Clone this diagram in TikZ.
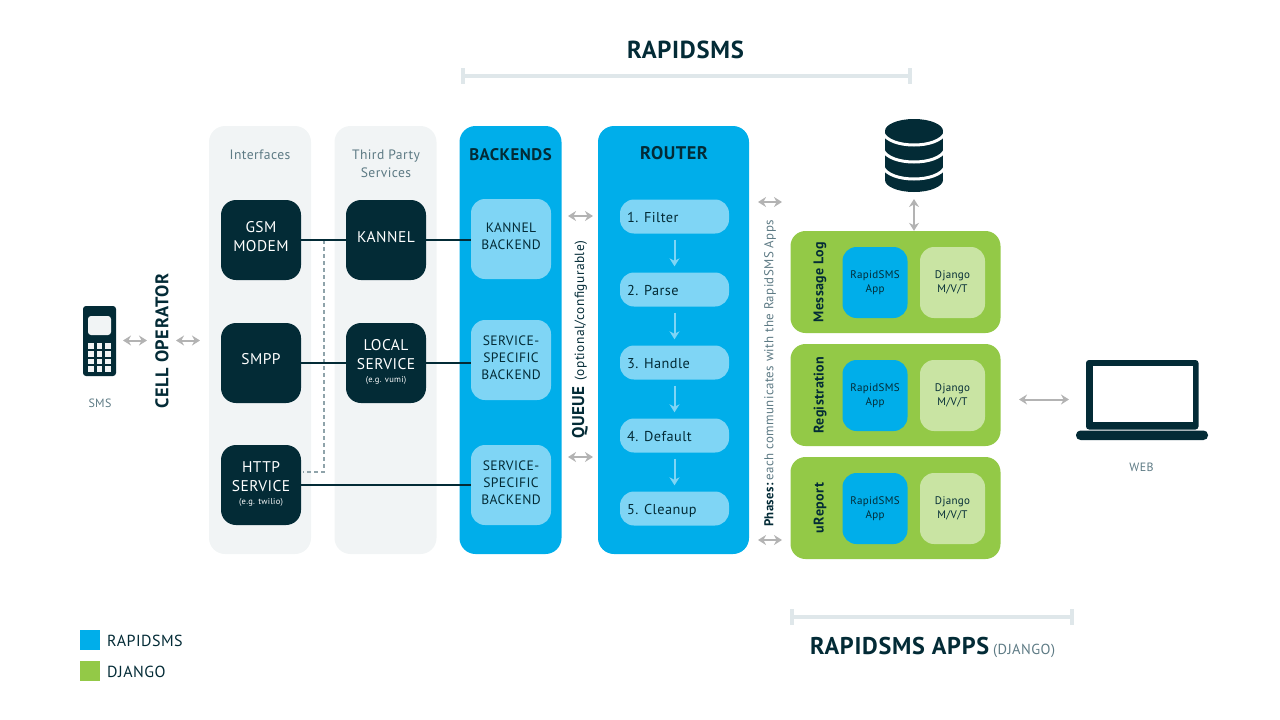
\documentclass[tikz,border=0pt]{standalone}
\usepackage{fontspec}
\setmainfont{PT Sans}[LetterSpace=3]
\usetikzlibrary{arrows.meta,calc}
\definecolor{ink}{HTML}{032B36}
\definecolor{sky}{HTML}{00AEEA}
\definecolor{paleblue}{HTML}{7FD5F5}
\definecolor{leaf}{HTML}{93C947}
\definecolor{paleleaf}{HTML}{C9E4A3}
\definecolor{panelgrey}{HTML}{F1F4F5}
\definecolor{softtext}{HTML}{5D7A84}
\definecolor{rulegrey}{HTML}{DFE7EA}
\definecolor{arrowgrey}{HTML}{B3B3B3}
\definecolor{dashgrey}{HTML}{8FA3AA}
\newcommand{\fs}[2]{\fontsize{#1}{#2}\selectfont}
\tikzset{
  x=1pt,y=-1pt,
  areabox/.style={minimum width=#1,inner sep=0pt,rounded corners=16pt},
  panel/.style={areabox=102pt,fill=panelgrey,minimum height=428pt},
  bluearea/.style={fill=sky,inner sep=0pt,rounded corners=16pt,minimum height=428pt},
  darkbox/.style={fill=ink,minimum width=80pt,minimum height=80pt,inner sep=0pt,rounded corners=15pt},
  palebox/.style={fill=paleblue,minimum width=80pt,minimum height=80pt,inner sep=0pt,rounded corners=14pt},
  pill/.style={fill=paleblue,minimum width=109pt,minimum height=34pt,inner sep=0pt,rounded corners=14pt},
  pilltext/.style={text=ink,anchor=west,font=\fs{14.3}{16},inner sep=0pt,text height=11pt,text depth=3pt},
  appbox/.style={fill=leaf,minimum width=210pt,minimum height=102pt,inner sep=0pt,rounded corners=15pt},
  smallblue/.style={fill=sky,minimum width=65pt,minimum height=71pt,inner sep=0pt,rounded corners=14pt,text=ink,align=center,font=\fs{11}{14.5}},
  smallleaf/.style={fill=paleleaf,minimum width=65pt,minimum height=71pt,inner sep=0pt,rounded corners=14pt,text=ink,align=center,font=\fs{11}{14.5}},
  whitetext/.style={text=white,align=center,font=\fs{15.5}{19}},
  tinytext/.style={text=white,align=center,font=\fs{8.5}{10}},
  backendtext/.style={text=ink,align=center,font=\fs{13.6}{17}},
  softlabel/.style={text=softtext,align=center,font=\fs{13.6}{18}},
  heading/.style={text=ink,align=center,font=\bfseries\fs{18.3}{20}},
  apptitle/.style={text=ink,rotate=90,font=\bfseries\fs{14}{16}},
  wire/.style={draw=ink,line width=2pt},
  dashwire/.style={draw=dashgrey,line width=2pt,dash pattern=on 4pt off 3pt},
  twoway/.style={draw=arrowgrey,line width=2pt,{Stealth[length=8pt,width=10pt]}-{Stealth[length=8pt,width=10pt]}},
  phasearrow/.style={draw=paleblue,line width=2pt,-{Stealth[length=8pt,width=10pt]}},
  bracketrule/.style={draw=rulegrey,line width=4pt},
  swatch/.style={minimum width=20pt,minimum height=20pt,inner sep=0pt},
  legendtext/.style={text=ink,anchor=west,font=\fs{16}{18},inner sep=0pt}
}
\begin{document}
\begin{tikzpicture}
\useasboundingbox (0,0) rectangle (1280,720);

% Title and top bracket
\node[text=ink,font=\bfseries\fs{24.6}{26}] (title) at (685.5,50) {RAPIDSMS};
\coordinate (tl) at (463,76); \coordinate (tr) at (910,76);
\draw[bracketrule] (tl) -- (tr);
\draw[bracketrule] ([yshift=8pt]tl) -- ([yshift=-8pt]tl);
\draw[bracketrule] ([yshift=8pt]tr) -- ([yshift=-8pt]tr);

% Areas
\node[panel] (ifaces) at (260,340) {};
\node[panel] (third) at (385.5,340) {};
\node[bluearea,minimum width=102pt] (backends) at (510.5,340) {};
\node[bluearea,minimum width=151pt] (router) at (673.5,340) {};
\node[softlabel] (ifacet) at (260,154.5) {Interfaces};
\node[softlabel] (thirdt) at (386,163.5) {Third Party\\Services};
\node[heading,font=\bfseries\fs{16.8}{20}] (backt) at (510.5,155) {BACKENDS};
\node[heading] (routert) at (674,153) {ROUTER};

% Inner boxes
\node[darkbox] (gsm) at (261,240) {};
\node[darkbox] (smpp) at (261,363) {};
\node[darkbox] (http) at (261,485) {};
\node[darkbox] (kannel) at (386,240) {};
\node[darkbox] (local) at (386,363) {};
\node[palebox] (kb) at (511,239) {};
\node[palebox] (sb1) at (511,360) {};
\node[palebox] (sb2) at (511,485) {};

% Connectors
\coordinate (dashtop) at ($(gsm.east)!0.5!(kannel.west)$);
\coordinate (dashend) at ([yshift=13pt]http.east);
\draw[dashwire] (dashtop) -- (dashtop |- dashend) -- ([xshift=2pt]dashend);
\draw[wire] (gsm.east) -- (kannel.west);
\draw[wire] (kannel.east) -- (kannel.east -| kb.west);
\draw[wire] (smpp.east) -- (local.west);
\draw[wire] (local.east) -- (local.east -| sb1.west);
\draw[wire] (http.east) -- (http.east -| sb2.west);

% Box labels
\node[whitetext] (gsmt) at (261,236.5) {GSM\\MODEM};
\node[whitetext] (smppt) at (261,359.5) {SMPP};
\node[whitetext] (httpt) at (261,476.5) {HTTP\\SERVICE};
\node[tinytext] (https) at (261,502) {(e.g. twilio)};
\node[whitetext] (kannelt) at (386,237) {KANNEL};
\node[whitetext] (localt) at (386,354.5) {LOCAL\\SERVICE};
\node[tinytext] (locals) at (386,380.5) {(e.g. vumi)};
\node[backendtext] at (511,236) {KANNEL\\BACKEND};
\node[backendtext] at (511,358) {SERVICE-\\SPECIFIC\\BACKEND};
\node[backendtext] at (511,483) {SERVICE-\\SPECIFIC\\BACKEND};

% Router phases
\node[pill] (p1) at (674.5,216.5) {};
\node[pill] (p2) at (674.5,289.5) {};
\node[pill] (p3) at (674.5,362.5) {};
\node[pill] (p4) at (674.5,435.5) {};
\node[pill] (p5) at (674.5,508.5) {};
\node[pilltext] at (627,218) {1. Filter};
\node[pilltext] at (627,291) {2. Parse};
\node[pilltext] at (627,364) {3. Handle};
\node[pilltext] at (627,437) {4. Default};
\node[pilltext] at (627,510) {5. Cleanup};
\draw[phasearrow] ([yshift=-6pt]p1.south) -- ([yshift=6pt]p2.north);
\draw[phasearrow] ([yshift=-6pt]p2.south) -- ([yshift=6pt]p3.north);
\draw[phasearrow] ([yshift=-6pt]p3.south) -- ([yshift=6pt]p4.north);
\draw[phasearrow] ([yshift=-6pt]p4.south) -- ([yshift=6pt]p5.north);

% Rotated labels
\node[rotate=90,text=ink,font=\bfseries\fs{18.3}{20}] (cell) at (162,341) {CELL OPERATOR};
\node[rotate=90,text=ink,anchor=west,inner sep=0pt] (queue) at (580,439) {{\bfseries\fs{17}{18}QUEUE}\hspace{6pt}{\color{ink}\fs{13.4}{14}(optional/configurable)}};
\node[rotate=90,text=softtext,anchor=west,inner sep=0pt] (phases) at (770,527) {{\bfseries\color{ink}\fs{12.8}{14}Phases:}\hspace{3pt}\fs{12.9}{14}each communicates with the RapidSMS Apps};

% Two-way arrows
\coordinate (a1l) at (123,340.5); \coordinate (a1r) at (147,340.5);
\coordinate (a2l) at (176,340.5); \coordinate (a2r) at (200,340.5);
\coordinate (q1l) at (568,216); \coordinate (q1r) at (593,216);
\coordinate (q2l) at (568,457); \coordinate (q2r) at (593,457);
\coordinate (r1l) at (758,202); \coordinate (r1r) at (782,202);
\coordinate (r2l) at (758,540); \coordinate (r2r) at (782,540);
\draw[twoway] (a1l) -- (a1r);
\draw[twoway] (a2l) -- (a2r);
\draw[twoway] (q1l) -- (q1r);
\draw[twoway] (q2l) -- (q2r);
\draw[twoway] (r1l) -- (r1r);
\draw[twoway] (r2l) -- (r2r);

% Apps
\node[appbox] (log) at (895.5,282) {};
\node[appbox] (reg) at (895.5,395) {};
\node[appbox] (ureport) at (895.5,508) {};
\node[apptitle] at (820,282) {Message Log};
\node[apptitle] at (820,395) {Registration};
\node[apptitle] at (820,508) {uReport};
\node[smallblue] at (875,282.5) {RapidSMS\\App};
\node[smallleaf] at (952.5,282.5) {Django\\M/V/T};
\node[smallblue] at (875,395.5) {RapidSMS\\App};
\node[smallleaf] at (952.5,395.5) {Django\\M/V/T};
\node[smallblue] at (875,508.5) {RapidSMS\\App};
\node[smallleaf] at (952.5,508.5) {Django\\M/V/T};

% Database
\fill[ink] (885,131) rectangle (943,180);
\fill[ink] (914,131) ellipse [x radius=29pt,y radius=12pt];
\fill[ink] (914,180) ellipse [x radius=29pt,y radius=12pt];
\draw[white,line width=3pt] (883,133) .. controls (890,149) and (938,149) .. (945,133);
\draw[white,line width=3pt] (883,150) .. controls (890,166) and (938,166) .. (945,150);
\draw[white,line width=3pt] (883,167) .. controls (890,183) and (938,183) .. (945,167);
\coordinate (dbarrow) at (914,199);
\draw[twoway] (dbarrow) -- (dbarrow |- log.north);

% Phone
\fill[ink,rounded corners=3pt] (83,306) rectangle (116,376);
\fill[panelgrey,rounded corners=3pt] (88,316) rectangle (111,335);
\foreach \kx in {88.3,96.7,105}
  \foreach \ky in {343.3,351,358.5,366.2}
    \fill[panelgrey] (\kx,\ky) rectangle ++(5.7,5.6);
\node[softlabel,font=\fs{12}{14}] (sms) at (100,403.5) {SMS};

% Laptop
\fill[ink,rounded corners=3pt] (1086,360) rectangle (1198.5,429.5);
\fill[white] (1092.5,366) rectangle (1192.5,421.5);
\fill[ink,rounded corners=4.5pt] (1076,430.5) rectangle (1208,440);
\node[softlabel,font=\fs{12}{14}] (web) at (1141.5,467) {WEB};
\coordinate (lapl) at (1019,399.5); \coordinate (lapr) at (1069,399.5);
\draw[twoway] (lapl) -- (lapr);

% Bottom bracket and title
\coordinate (bl) at (792,617); \coordinate (br) at (1072,617);
\draw[bracketrule] (bl) -- (br);
\draw[bracketrule] ([yshift=8pt]bl) -- ([yshift=-8pt]bl);
\draw[bracketrule] ([yshift=8pt]br) -- ([yshift=-8pt]br);
\node[text=ink,anchor=west,inner sep=0pt] (appt) at (810,647) {{\bfseries\fs{24.2}{26}RAPIDSMS APPS}\hspace{4pt}{\color{softtext}\fs{14.5}{14}(DJANGO)}};

% Legend
\node[swatch,fill=sky] (sw1) at (90,640) {};
\node[swatch,fill=leaf] (sw2) at (90,671) {};
\node[legendtext] at (107,640.5) {RAPIDSMS};
\node[legendtext] at (107,671.5) {DJANGO};
\end{tikzpicture}
\end{document}
